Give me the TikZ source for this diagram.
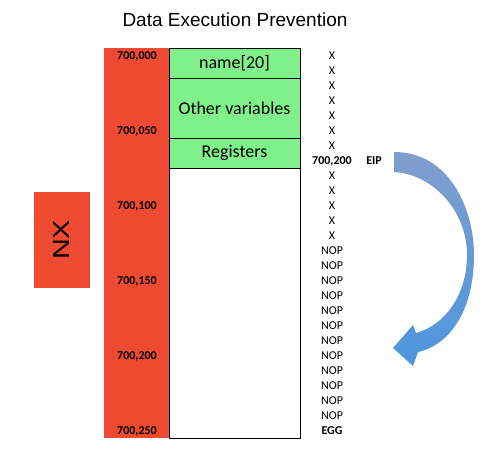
\documentclass[tikz,border=0pt]{standalone}
\usepackage{fontspec}
\setmainfont{Carlito}
\newfontfamily\titlefont{Liberation Sans}
\usepackage{tikz}

\definecolor{nxred}{RGB}{238,74,50}
\definecolor{rowgreen}{RGB}{128,240,138}
\definecolor{arrowtop}{RGB}{128,158,205}
\definecolor{arrowbot}{RGB}{78,150,222}

\tikzset{
	stackrow/.style={draw=black, line width=0.8pt, minimum width=131pt, inner sep=0pt, outer sep=0pt, font=\fontsize{18}{20}\selectfont},
	addr/.style={font=\fontsize{12}{14}\selectfont\bfseries},
	cell/.style={font=\fontsize{12}{14}\selectfont},
	cellb/.style={font=\fontsize{12}{14}\selectfont\bfseries}
}

\begin{document}
\begin{tikzpicture}[x=1pt,y=-1pt]
	\useasboundingbox (0,0) rectangle (493,457);
	\node[font=\titlefont\fontsize{19}{22}\selectfont] (title) at (235,20) {Data Execution Prevention};
	
	% NX
	\node[fill=nxred, minimum width=56pt, minimum height=96pt, inner sep=0pt] (nx) at (62,240) {};
	\node[rotate=90, font=\titlefont\fontsize{23}{26}\selectfont] (nxtext) at (nx.center) {\scalebox{1.25}[1]{NX}};
	
	% address bar
	\node[fill=nxred, minimum width=65pt, minimum height=390pt, inner sep=0pt, outer sep=0pt] (bar) at (136.5,243) {};
	\foreach \v [count=\i from 0] in {000,050,100,150,200,250}
		\node[addr] (a\i) at (137,56+75*\i) {700,\v};
	
	% stack
	\node[stackrow, fill=rowgreen, minimum height=30pt] (name) at (234.5,63) {name[20]};
	\node[stackrow, fill=rowgreen, minimum height=60pt] (other) at (234.5,108) {Other variables};
	\node[stackrow, fill=rowgreen, minimum height=30pt] (regs) at (234.5,153) {Registers};
	\node[stackrow, fill=white, minimum height=270pt] (free) at (234.5,303) {};
	
	% overflow contents
	\foreach \i in {0,1,2,3,4,5,6,8,9,10,11,12}
		\node[cell] (r\i) at (332,56+15*\i) {X};
	\node[cellb] (r7) at (332,161) {700,200};
	\node[cellb] (eip) at (374,161) {EIP};
	\foreach \i in {13,...,24}
		\node[cell] (r\i) at (332,56+15*\i) {NOP};
	\node[cellb] (r25) at (332,431) {EGG};
	
	% jump
	\shade[top color=arrowtop, bottom color=arrowbot]
		(394,152) .. controls (450,152) and (474,210) .. (474,255)
		.. controls (474,310) and (450,345) .. (418,352)
		-- (413,366) -- (393,348) -- (413,325) -- (416,333)
		.. controls (445,325) and (467,295) .. (467,255)
		.. controls (467,210) and (432,174) .. (394,172) -- cycle;
\end{tikzpicture}
\end{document}
